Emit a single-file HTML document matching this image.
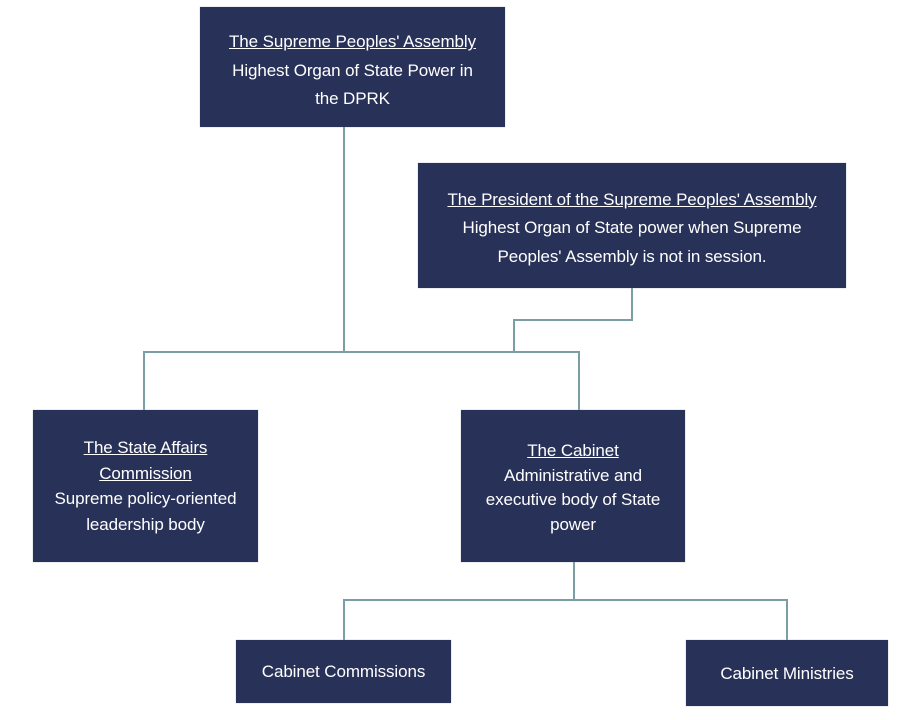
<!DOCTYPE html>
<html><head><style>
body{margin:0;width:920px;height:720px;background:#fff;position:relative;overflow:hidden;font-family:"Liberation Sans",sans-serif;}
.b{position:absolute;background:#283158;color:#fff;display:flex;align-items:center;justify-content:center;text-align:center;font-size:17px;line-height:25px;box-shadow:0 0 1px #9aa;letter-spacing:-0.1px;box-sizing:border-box;}
.b u{text-decoration:underline;}
svg{position:absolute;left:0;top:0;}
</style></head><body>
<svg width="920" height="720"><g stroke="#7a9ea3" stroke-width="2" fill="none">
<path d="M344 127V352"/>
<path d="M144 410V352H579V410"/>
<path d="M632 288V320H514V352"/>
<path d="M574 562V600"/>
<path d="M344 640V600H787V640"/>
</g></svg>
<div class="b" style="left:200px;top:7px;width:305px;height:120px;line-height:28.5px;padding-top:8px"><div><u>The Supreme Peoples' Assembly</u><br>Highest Organ of State Power in<br>the DPRK</div></div>
<div class="b" style="left:418px;top:163px;width:428px;height:125px;line-height:28.5px;padding-top:6px"><div><u>The President of the Supreme Peoples' Assembly</u><br>Highest Organ of State power when Supreme<br>Peoples' Assembly is not in session.</div></div>
<div class="b" style="left:33px;top:410px;width:225px;height:152px;line-height:25.5px"><div><u>The State Affairs<br>Commission</u><br>Supreme policy-oriented<br>leadership body</div></div>
<div class="b" style="left:461px;top:410px;width:224px;height:152px;line-height:24.5px;padding-top:4px"><div><u>The Cabinet</u><br>Administrative and<br>executive body of State<br>power</div></div>
<div class="b" style="left:236px;top:640px;width:215px;height:63px">Cabinet Commissions</div>
<div class="b" style="left:686px;top:640px;width:202px;height:66px">Cabinet Ministries</div>
</body></html>
